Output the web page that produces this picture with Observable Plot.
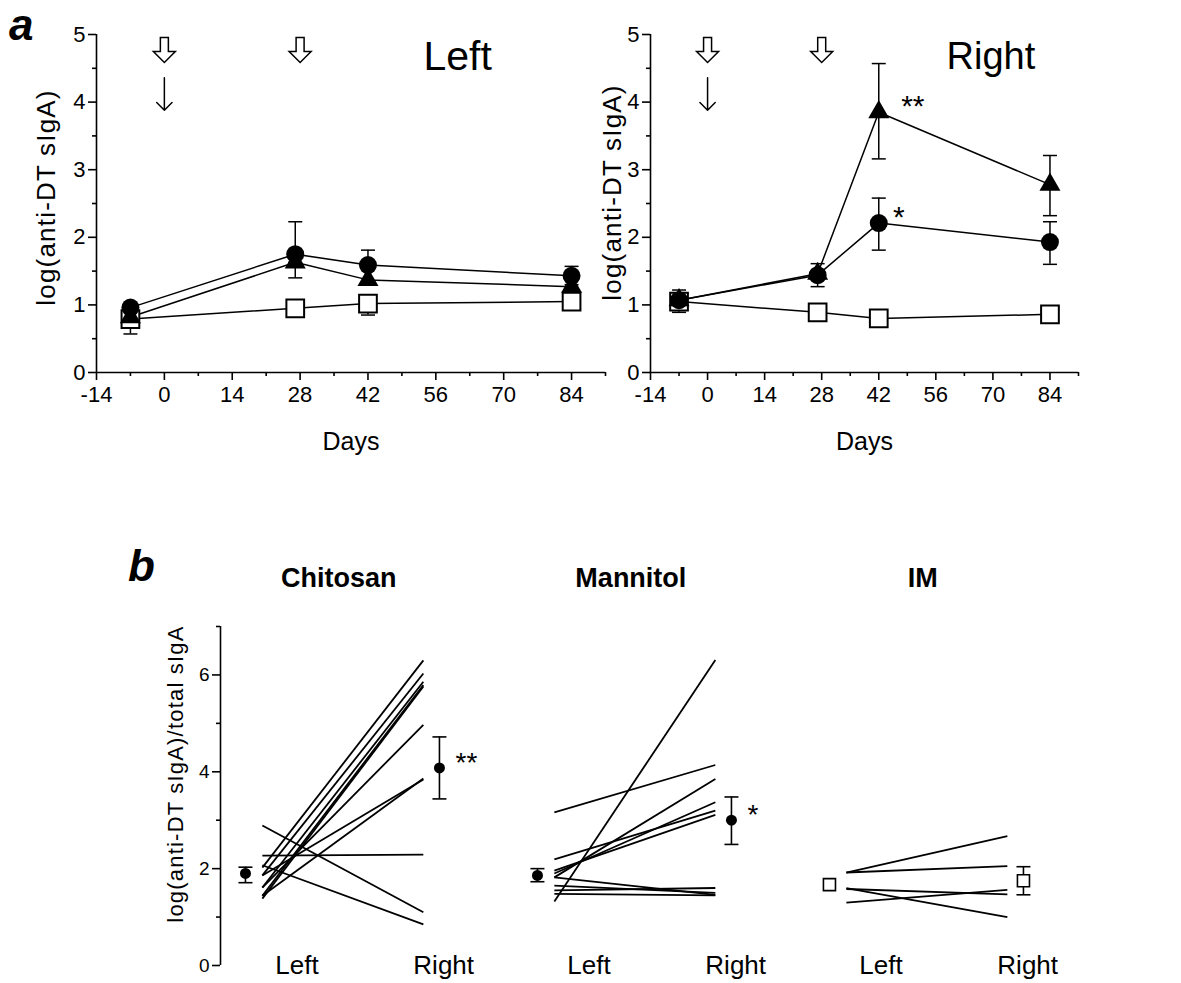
<!DOCTYPE html>
<html><head><meta charset="utf-8">
<script src="https://cdn.jsdelivr.net/npm/d3@7"></script>
<script src="https://cdn.jsdelivr.net/npm/@observablehq/plot@0.6"></script>
<style>
body{margin:0;background:#fff;}
#wrap{position:relative;width:1181px;height:983px;overflow:hidden;font-family:"Liberation Sans",Arial,sans-serif;background:#fff;}
#wrap svg{position:absolute;}
.lbl{position:absolute;font-weight:bold;font-style:italic;font-size:44px;line-height:1.117;font-family:"Liberation Sans",Arial,sans-serif;}
</style></head><body>
<div id="wrap"><div class="lbl" id="la" style="left:9px;top:0px">a</div><div class="lbl" id="lb" style="left:128px;top:541px">b</div></div>
<script>
// ---------- Panel a data ----------
const days = [-7, 27, 42, 84];
const chitosanLeft  = [0.82, 1.63, 1.37, 1.27];
const mannitolLeft  = [0.96, 1.75, 1.59, 1.43];
const imLeft        = [0.79, 0.95, 1.02, 1.05];
const chitosanRight = [1.07, 1.46, 3.85, 2.78];
const mannitolRight = [1.07, 1.44, 2.21, 1.93];
const imRight       = [1.05, 0.89, 0.80, 0.86];
// error bars (day, low, high)
const errLeftDay   = [-7, 27, 27, 42, 42, 84, 84];
const errLeftLow   = [0.57, 1.75, 1.40, 1.59, 0.85, 1.43, 1.30];
const errLeftHigh  = [0.82, 2.23, 1.63, 1.81, 1.02, 1.57, 1.43];
const errRightDay  = [-7, 27, 42, 42, 84, 84];
const errRightLow  = [0.89, 1.27, 3.16, 1.81, 2.32, 1.60];
const errRightHigh = [1.22, 1.61, 4.57, 2.58, 3.21, 2.23];
const xTicks = [-14, 0, 14, 28, 42, 56, 70, 84];
const xMinor = [-7, 7, 21, 35, 49, 63, 77, 91];
const yTicks = [0, 1, 2, 3, 4, 5];
const yMinor = [0.5, 1.5, 2.5, 3.5, 4.5];
const boostDays = [0, 28];          // open arrows
const primeDays = [0];              // thin arrow
const openArrowY = 4.77;
const thinArrowY = [4.36, 3.88];
const rightStars = ["**", "*"];
const rightStarDay = [47.5, 45.5];
const rightStarY = [4.05, 2.42];

// ---------- Panel b data ----------
const groups = ["Chitosan", "Mannitol", "IM"];
const chitosanL = [2.02, 1.86, 1.61, 1.44, 1.38, 1.61, 1.44, 1.86, 2.89, 2.07, 2.27];
const chitosanR = [6.30, 6.03, 5.86, 5.79, 5.76, 4.97, 3.86, 3.84, 1.10, 0.85, 2.29];
const mannitolL = [1.32, 3.16, 2.19, 1.82, 1.90, 1.96, 1.82, 1.65, 1.55, 1.48];
const mannitolR = [6.31, 4.14, 3.20, 3.85, 3.37, 3.11, 1.46, 1.50, 1.60, 1.45];
const imL = [1.92, 1.92, 1.60, 1.58, 1.30];
const imR = [2.67, 2.05, 1.00, 1.47, 1.56];
const meanL = [1.90, 1.86, 1.67];
const meanR = [4.08, 3.00, 1.75];
const meanLLow = [1.71, 1.73, null], meanLHigh = [2.03, 2.00, null];
const meanRLow = [3.44, 2.50, 1.46], meanRHigh = [4.72, 3.48, 2.04];
const sigLabels = ["**", "*", ""];
const sides = ["Left", "Right"];

const FONT = "Liberation Sans, Arial, sans-serif";
const capSymbol = {draw(ctx) { ctx.moveTo(-7, 0); ctx.lineTo(7, 0); }};
const openArrowSymbol = {draw(ctx) {
  ctx.moveTo(-4, -12.5); ctx.lineTo(4, -12.5); ctx.lineTo(4, 1.5); ctx.lineTo(11, 1.5);
  ctx.lineTo(0, 12.5); ctx.lineTo(-11, 1.5); ctx.lineTo(-4, 1.5); ctx.closePath();
}};

function spaceText(svg, str, ls) {
  svg.querySelectorAll("text").forEach(t => { if (t.textContent === str) t.style.letterSpacing = ls; });
}

function panelA({ch, ma, im, eDay, eLow, eHigh, title, titleX, titleSize, width, marginLeft, marginRight, ylabDx, ylabDy, stars}) {
  const series = [["IM", im], ["Chitosan", ch], ["Mannitol", ma]];
  const rows = series.flatMap(([s, arr]) => arr.map((v, i) => ({series: s, day: days[i], value: v})));
  const errRows = eDay.map((d, i) => ({day: d, lo: eLow[i], hi: eHigh[i]}));
  const caps = errRows.flatMap(e => [{day: e.day, v: e.lo}, {day: e.day, v: e.hi}]);
  const marks = [
    Plot.ruleY([0], {strokeWidth: 1.6}),
    Plot.ruleX([-14], {strokeWidth: 1.6}),
    Plot.axisX({ticks: xTicks, tickSize: 8, tickPadding: 6, fontSize: 22, label: null, strokeWidth: 1.6, tickFormat: d => String(d)}),
    Plot.axisX({ticks: xMinor, tickSize: 4, label: null, strokeWidth: 1.6, tickFormat: () => ""}),
    Plot.axisY({ticks: yTicks, tickSize: 8, tickPadding: 3, fontSize: 22, label: null, strokeWidth: 1.6, tickFormat: d => String(d)}),
    Plot.axisY({ticks: yMinor, tickSize: 4, label: null, strokeWidth: 1.6, tickFormat: () => ""}),
    Plot.line(rows, {x: "day", y: "value", z: "series", stroke: "black", strokeWidth: 1.5}),
    Plot.ruleX(errRows, {x: "day", y1: "lo", y2: "hi", strokeWidth: 1.5}),
    Plot.dot(caps, {x: "day", y: "v", symbol: capSymbol, r: 1, stroke: "black", strokeWidth: 1.5}),
    Plot.dot(rows.filter(d => d.series === "IM"), {x: "day", y: "value", symbol: "square", r: 10, fill: "white", stroke: "black", strokeWidth: 2}),
    Plot.dot(rows.filter(d => d.series === "Chitosan"), {x: "day", y: "value", symbol: "triangle", r: 7.8, fill: "black"}),
    Plot.dot(rows.filter(d => d.series === "Mannitol"), {x: "day", y: "value", r: 9, fill: "black"}),
    Plot.dot(boostDays, {x: d => d, y: () => openArrowY, symbol: openArrowSymbol, r: 1, fill: "white", stroke: "black", strokeWidth: 1.5}),
    Plot.arrow(primeDays, {x1: d => d, x2: d => d, y1: () => thinArrowY[0], y2: () => thinArrowY[1], headLength: 12, headAngle: 90, strokeWidth: 1.5}),
    Plot.text([title], {x: () => titleX, y: () => 4.67, fontSize: titleSize, text: d => d}),
    Plot.text(["Days"], {frameAnchor: "bottom", lineAnchor: "middle", dy: 69, fontSize: 25}),
    Plot.text(["log(anti-DT sIgA)"], {frameAnchor: "left", textAnchor: "middle", lineAnchor: "middle", rotate: -90, dx: ylabDx, dy: ylabDy, fontSize: 26})
  ];
  if (stars) marks.push(Plot.text(stars.map((s, i) => ({s, x: rightStarDay[i], y: rightStarY[i]})), {x: "x", y: "y", text: "s", fontSize: 30, dy: 8, textAnchor: "start"}));
  const svg = Plot.plot({
    width, height: 470, marginLeft, marginRight, marginTop: 34, marginBottom: 98,
    x: {domain: [-14, 91]}, y: {domain: [0, 5]},
    style: {background: "transparent", fontFamily: FONT, color: "black", overflow: "visible"},
    marks
  });
  spaceText(svg, "log(anti-DT sIgA)", "1.2px");
  return svg;
}

const wrap = document.getElementById("wrap");
const svgL = panelA({ch: chitosanLeft, ma: mannitolLeft, im: imLeft, eDay: errLeftDay, eLow: errLeftLow, eHigh: errLeftHigh,
  title: "Left", titleX: 60.5, titleSize: 41, width: 620, marginLeft: 96, marginRight: 15, ylabDx: -50, ylabDy: -6});
svgL.style.left = "0px"; svgL.style.top = "0px";
wrap.appendChild(svgL);
const svgR = panelA({ch: chitosanRight, ma: mannitolRight, im: imRight, eDay: errRightDay, eLow: errRightLow, eHigh: errRightHigh,
  title: "Right", titleX: 69.5, titleSize: 38, width: 641, marginLeft: 110, marginRight: 103, ylabDx: -38, ylabDy: -11, stars: rightStars});
svgR.style.left = "540px"; svgR.style.top = "0px";
wrap.appendChild(svgR);

// ---------- Panel b ----------
const pairs = [
  ...chitosanL.map((l, i) => ({group: "Chitosan", l, r: chitosanR[i]})),
  ...mannitolL.map((l, i) => ({group: "Mannitol", l, r: mannitolR[i]})),
  ...imL.map((l, i) => ({group: "IM", l, r: imR[i]}))
];
const means = groups.flatMap((g, i) => [
  {group: g, side: "Left", m: meanL[i], lo: meanLLow[i], hi: meanLHigh[i]},
  {group: g, side: "Right", m: meanR[i], lo: meanRLow[i], hi: meanRHigh[i]}
]);
const meanX = d => d.side === "Left" ? -0.105 : 1.1;
const meanErr = means.filter(d => d.lo != null);
const meanCaps = meanErr.flatMap(d => [{...d, v: d.lo}, {...d, v: d.hi}]);
const sideLabels = groups.flatMap(g => sides.map((s, j) => ({group: g, side: s, x: j})));
const xDomB = [-0.26, 1.355];

const svgB = Plot.plot({
  width: 1181, height: 423, marginLeft: 220, marginRight: 117, marginTop: 66, marginBottom: 18,
  fx: {domain: groups, axis: null, paddingInner: 0.11, paddingOuter: 0},
  x: {domain: xDomB, axis: null},
  y: {domain: [0, 7]},
  style: {background: "transparent", fontFamily: FONT, color: "black", overflow: "visible"},
  marks: [
    Plot.ruleX(["Chitosan"], {fx: d => d, x: () => xDomB[0], y1: 0, y2: 7, strokeWidth: 1.6}),
    Plot.axisY({ticks: [0, 2, 4, 6], tickSize: 8, tickPadding: 3, fontSize: 19, label: null, strokeWidth: 1.6, tickFormat: d => String(d)}),
    Plot.axisY({ticks: [1, 3, 5, 7], tickSize: 4, label: null, strokeWidth: 1.6, tickFormat: () => ""}),
    Plot.link(pairs, {fx: "group", x1: () => 0, x2: () => 1, y1: "l", y2: "r", stroke: "black", strokeWidth: 1.8}),
    Plot.ruleX(meanErr, {fx: "group", x: meanX, y1: "lo", y2: "hi", strokeWidth: 1.6}),
    Plot.dot(meanCaps, {fx: "group", x: meanX, y: "v", symbol: capSymbol, r: 1, stroke: "black", strokeWidth: 1.6}),
    Plot.dot(means.filter(d => d.group !== "IM"), {fx: "group", x: meanX, y: "m", r: 5.5, fill: "black"}),
    Plot.dot(means.filter(d => d.group === "IM"), {fx: "group", x: meanX, y: "m", symbol: "square", r: 6.8, fill: "white", stroke: "black", strokeWidth: 1.6}),
    Plot.text(groups.map((g, i) => ({group: g, s: sigLabels[i], m: meanR[i]})), {fx: "group", x: () => 1.2, y: "m", text: "s", fontSize: 28, textAnchor: "start", dy: -5}),
    Plot.text(sideLabels.filter(d => d.side === "Left"), {fx: "group", x: "x", y: () => 0, text: "side", fontSize: 26, textAnchor: "start", dx: 13}),
    Plot.text(sideLabels.filter(d => d.side === "Right"), {fx: "group", x: "x", y: () => 0, text: "side", fontSize: 26, textAnchor: "start", dx: -10}),
    Plot.text(groups, {fx: d => d, x: () => 0.5, frameAnchor: "top", lineAnchor: "middle", dy: -48, dx: -4, text: d => d, fontSize: 27, fontWeight: "bold"}),
    Plot.text(["log(anti-DT sIgA)/total sIgA"], {fx: () => "Chitosan", frameAnchor: "left", textAnchor: "middle", lineAnchor: "middle", rotate: -90, dx: -45, dy: -22, fontSize: 22})
  ]
});
spaceText(svgB, "log(anti-DT sIgA)/total sIgA", "1.2px");
svgB.style.left = "0px"; svgB.style.top = "560px";
wrap.appendChild(svgB);
</script>
</body></html>
